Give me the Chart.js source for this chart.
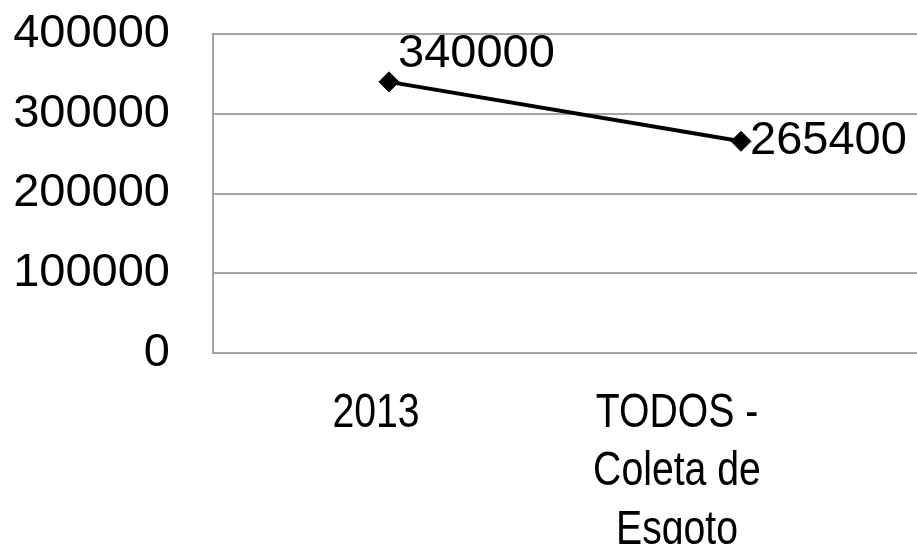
<!DOCTYPE html>
<html>
<head>
<meta charset="utf-8">
<script src="https://cdn.jsdelivr.net/npm/chart.js@4.4.1/dist/chart.umd.min.js"></script>
<style>
  html, body { margin: 0; padding: 0; background: #fff; overflow: hidden; }
  #wrap { width: 917px; height: 544px; position: relative; }
</style>
</head>
<body>
<div id="wrap"><canvas id="lineChart"></canvas></div>
<script>
// --- data ---
const categories = ['2013', ['TODOS -', 'Coleta de', 'Esgoto']];
const values = [340000, 265400];
const yTicks = [0, 100000, 200000, 300000, 400000];

const GRID = '#a3a3a3';
const FONT = "'Liberation Sans', Arial, sans-serif";

// valores ao lado dos pontos
const pointLabels = {
    id: 'pointLabels',
    afterDatasetsDraw(chart) {
        const ctx = chart.ctx;
        const pts = chart.getDatasetMeta(0).data;
        const nudge = [[9, -28], [9, 0]];
        ctx.save();
        ctx.font = '47px ' + FONT;
        ctx.fillStyle = '#000';
        ctx.textAlign = 'left';
        ctx.textBaseline = 'middle';
        pts.forEach((p, i) => {
            ctx.fillText(String(values[i]), p.x + nudge[i][0], p.y + nudge[i][1]);
        });
        ctx.restore();
    }
};

// rótulos das categorias (texto um pouco estreitado, como no original)
const catLabels = {
    id: 'catLabels',
    afterDraw(chart) {
        const ctx = chart.ctx;
        const x = chart.scales.x;
        const shift = [-13, -64];
        const base = chart.chartArea.bottom + 73.5;
        ctx.save();
        ctx.font = '49px ' + FONT;
        ctx.fillStyle = '#000';
        ctx.textAlign = 'center';
        ctx.textBaseline = 'alphabetic';
        categories.forEach((lab, i) => {
            const lines = Array.isArray(lab) ? lab : [lab];
            const cx = x.getPixelForValue(i) + shift[i];
            lines.forEach((t, j) => {
                ctx.save();
                ctx.translate(cx, base + j * 58.5);
                ctx.scale(0.8, 1);
                ctx.fillText(t, 0, 0);
                ctx.restore();
            });
        });
        ctx.restore();
    }
};

new Chart(document.getElementById('lineChart'), {
    type: 'line',
    data: {
        labels: categories,
        datasets: [{
            data: values,
            borderColor: '#000',
            borderWidth: 4,
            pointStyle: 'rectRot',
            pointRadius: 10,
            pointBackgroundColor: '#000',
            pointBorderColor: '#000',
            pointBorderWidth: 1,
            tension: 0,
            clip: false
        }]
    },
    options: {
        responsive: true,
        maintainAspectRatio: false,
        animation: false,
        layout: { autoPadding: false, padding: { top: 34, right: 0, bottom: 191, left: 0 } },
        plugins: { legend: { display: false }, tooltip: { enabled: false } },
        scales: {
            x: {
                offset: true,
                afterFit: (s) => { s.paddingLeft = 0; s.paddingRight = 0; },
                grid: { display: false, drawTicks: false },
                border: { display: false },
                ticks: { display: false }
            },
            y: {
                min: yTicks[0],
                max: yTicks[yTicks.length - 1],
                afterBuildTicks: (s) => { s.ticks = yTicks.map(v => ({ value: v })); },
                afterFit: (s) => { s.width = 213; s.paddingTop = 0; s.paddingBottom = 0; },
                grid: { color: GRID, lineWidth: 2, drawTicks: false },
                border: { display: true, color: GRID, width: 2 },
                ticks: {
                    color: '#000',
                    padding: 43,
                    font: { family: FONT, size: 47 },
                    callback: (v) => String(v)
                }
            }
        }
    },
    plugins: [pointLabels, catLabels]
});
</script>
</body>
</html>
